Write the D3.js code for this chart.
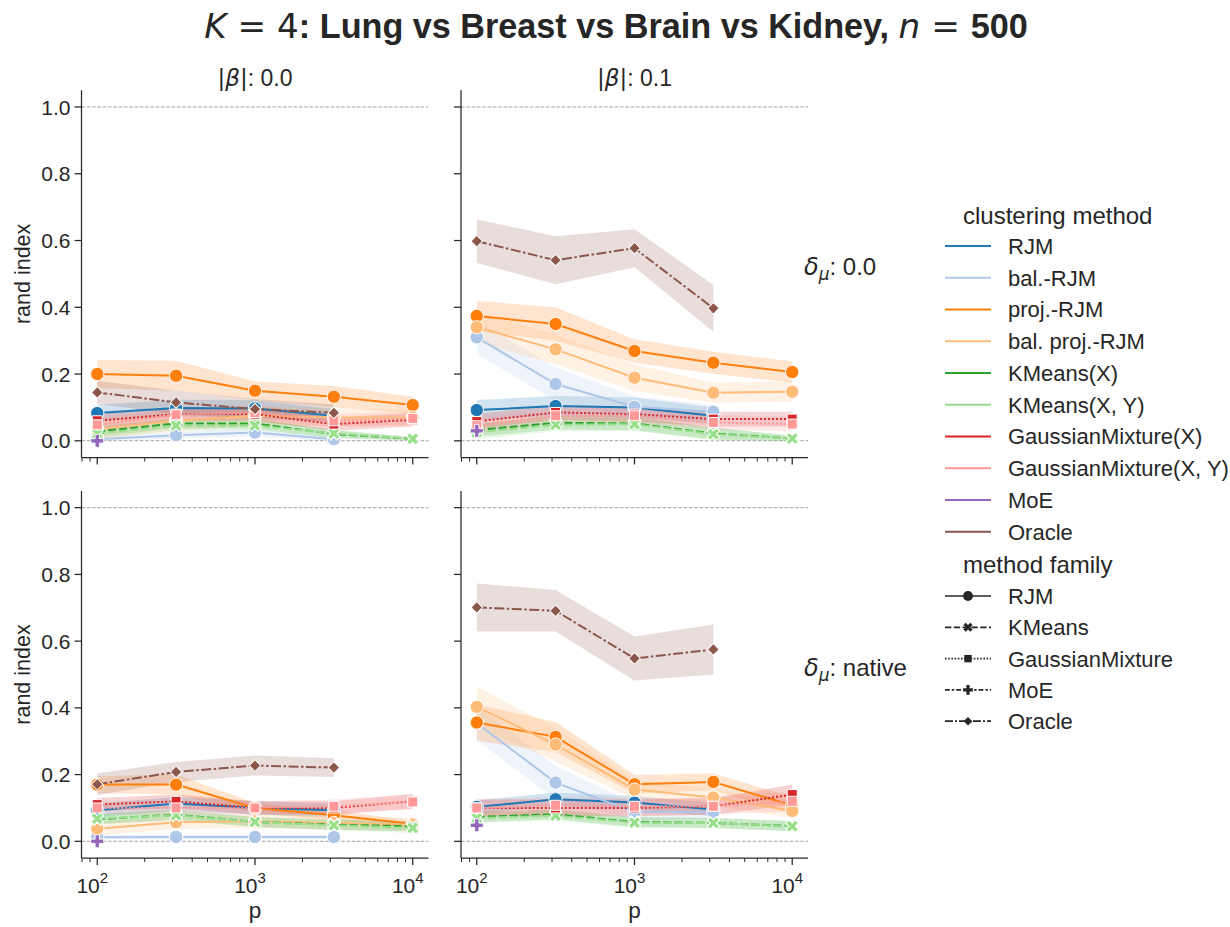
<!DOCTYPE html>
<html>
<head>
<meta charset="utf-8">
<script src="https://cdn.jsdelivr.net/npm/d3@7"></script>
<style>
  body { margin: 0; background: #fff; }
  text { font-family: "Liberation Sans", Arial, sans-serif; fill: #262626; }
  .math { font-family: "DejaVu Sans", sans-serif; }
</style>
</head>
<body>
<svg id="chart" width="1230" height="927"></svg>
<script>
// ---- data -----------------------------------------------------------------
const pValues = [100, 316, 1000, 3162, 10000];
const methods = ["RJM", "bal.-RJM", "proj.-RJM", "bal. proj.-RJM", "KMeans(X)", "KMeans(X, Y)",
                 "GaussianMixture(X)", "GaussianMixture(X, Y)", "MoE", "Oracle"];
const methodColors = ["#1f77b4", "#aec7e8", "#ff7f0e", "#ffbb78", "#2ca02c", "#98df8a",
                      "#d62728", "#ff9896", "#9467bd", "#8c564b"];
const methodFamily = ["RJM", "RJM", "RJM", "RJM", "KMeans", "KMeans",
                      "GaussianMixture", "GaussianMixture", "MoE", "Oracle"];
const families = ["RJM", "KMeans", "GaussianMixture", "MoE", "Oracle"];
const yTicks = [0.0, 0.2, 0.4, 0.6, 0.8, 1.0];
const xMajorTicks = [100, 1000, 10000];
const xMajorExponents = ["2", "3", "4"];
const betaLevels = ["0.0", "0.1"];
const deltaLevels = ["0.0", "native"];

// mean rand index: one row per method (order of `methods`), columns follow pValues
const randIndex_beta00_delta00 = [
  [0.083, 0.098, 0.097, 0.075, null],
  [0.005, 0.017, 0.025, 0.005, null],
  [0.200, 0.195, 0.150, 0.132, 0.107],
  [0.035, 0.060, 0.075, 0.070, 0.070],
  [0.028, 0.052, 0.052, 0.020, 0.006],
  [0.022, 0.046, 0.046, 0.022, 0.006],
  [0.060, 0.080, 0.080, 0.050, 0.063],
  [0.048, 0.078, 0.085, 0.060, 0.067],
  [0.000, null, null, null, null],
  [0.145, 0.115, 0.095, 0.084, null]
];
const randIndex_beta01_delta00 = [
  [0.092, 0.104, 0.100, 0.075, null],
  [0.310, 0.170, 0.102, 0.087, null],
  [0.374, 0.350, 0.269, 0.234, 0.206],
  [0.340, 0.274, 0.189, 0.144, 0.147],
  [0.032, 0.054, 0.052, 0.022, 0.007],
  [0.025, 0.048, 0.050, 0.020, 0.007],
  [0.058, 0.085, 0.080, 0.065, 0.065],
  [0.045, 0.075, 0.075, 0.055, 0.050],
  [0.030, null, null, null, null],
  [0.598, 0.541, 0.577, 0.397, null]
];
const randIndex_beta00_deltaNative = [
  [0.093, 0.113, 0.100, 0.093, null],
  [0.012, 0.013, 0.013, 0.013, null],
  [0.170, 0.170, 0.100, 0.078, 0.052],
  [0.038, 0.057, 0.060, 0.055, 0.050],
  [0.066, 0.080, 0.058, 0.050, 0.045],
  [0.068, 0.078, 0.058, 0.048, 0.040],
  [0.110, 0.120, 0.100, 0.100, 0.120],
  [0.100, 0.100, 0.100, 0.105, 0.118],
  [0.000, null, null, null, null],
  [0.171, 0.208, 0.227, 0.221, null]
];
const randIndex_beta01_deltaNative = [
  [0.103, 0.126, 0.116, 0.095, null],
  [0.354, 0.176, 0.088, 0.088, null],
  [0.356, 0.313, 0.171, 0.178, 0.108],
  [0.403, 0.290, 0.155, 0.131, 0.091],
  [0.073, 0.081, 0.058, 0.055, 0.046],
  [0.070, 0.077, 0.056, 0.055, 0.045],
  [0.100, 0.100, 0.100, 0.105, 0.140],
  [0.100, 0.108, 0.105, 0.105, 0.120],
  [0.048, null, null, null, null],
  [0.701, 0.691, 0.548, 0.575, null]
];

// half-width of the 95% confidence band, same layout as the means
const ciHalf_beta00_delta00 = [
  [0.025, 0.025, 0.025, 0.020, null],
  [0.008, 0.010, 0.012, 0.006, null],
  [0.042, 0.045, 0.028, 0.032, 0.025],
  [0.030, 0.030, 0.030, 0.025, 0.025],
  [0.015, 0.015, 0.015, 0.012, 0.005],
  [0.015, 0.015, 0.015, 0.012, 0.005],
  [0.020, 0.020, 0.020, 0.020, 0.020],
  [0.020, 0.020, 0.020, 0.020, 0.020],
  [0.000, null, null, null, null],
  [0.035, 0.035, 0.030, 0.025, null]
];
const ciHalf_beta01_delta00 = [
  [0.030, 0.030, 0.030, 0.025, null],
  [0.050, 0.050, 0.030, 0.020, null],
  [0.045, 0.050, 0.035, 0.033, 0.032],
  [0.045, 0.045, 0.040, 0.030, 0.030],
  [0.020, 0.020, 0.020, 0.018, 0.008],
  [0.020, 0.020, 0.020, 0.018, 0.008],
  [0.022, 0.022, 0.022, 0.022, 0.022],
  [0.022, 0.022, 0.022, 0.022, 0.022],
  [0.000, null, null, null, null],
  [0.065, 0.072, 0.057, 0.070, null]
];
const ciHalf_beta00_deltaNative = [
  [0.020, 0.020, 0.020, 0.020, null],
  [0.006, 0.006, 0.006, 0.006, null],
  [0.025, 0.030, 0.015, 0.015, 0.010],
  [0.020, 0.020, 0.020, 0.020, 0.020],
  [0.015, 0.015, 0.015, 0.015, 0.015],
  [0.015, 0.015, 0.015, 0.015, 0.015],
  [0.020, 0.020, 0.020, 0.020, 0.022],
  [0.020, 0.020, 0.020, 0.020, 0.022],
  [0.000, null, null, null, null],
  [0.032, 0.030, 0.030, 0.028, null]
];
const ciHalf_beta01_deltaNative = [
  [0.020, 0.020, 0.020, 0.020, null],
  [0.050, 0.050, 0.025, 0.020, null],
  [0.055, 0.045, 0.028, 0.025, 0.025],
  [0.060, 0.050, 0.030, 0.025, 0.020],
  [0.015, 0.015, 0.015, 0.015, 0.015],
  [0.015, 0.015, 0.015, 0.015, 0.015],
  [0.025, 0.025, 0.025, 0.025, 0.030],
  [0.025, 0.025, 0.025, 0.025, 0.030],
  [0.000, null, null, null, null],
  [0.072, 0.062, 0.066, 0.075, null]
];

// ---- layout ---------------------------------------------------------------
const svg = d3.select("#chart");
const ink = "#262626";
const tickFont = 21;
const labelFont = 21.5;
const titleFont = 24;
const colRange = [[81.5, 428.5], [461, 808]];
const rowRange = [[90.3, 457.5], [491, 858]];
const xDomain = [Math.pow(10, 1.9), Math.pow(10, 4.1)];
const yDomain = [-0.05, 1.05];

const facets = [
  { row: 0, col: 0, mean: randIndex_beta00_delta00,     ci: ciHalf_beta00_delta00 },
  { row: 0, col: 1, mean: randIndex_beta01_delta00,     ci: ciHalf_beta01_delta00 },
  { row: 1, col: 0, mean: randIndex_beta00_deltaNative, ci: ciHalf_beta00_deltaNative },
  { row: 1, col: 1, mean: randIndex_beta01_deltaNative, ci: ciHalf_beta01_deltaNative }
];

const familyDash = {
  RJM: null,
  KMeans: "8,3",
  GaussianMixture: "2,2",
  MoE: "6,2.5,3,2.5",
  Oracle: "10,2.5,2.5,2.5"
};

// marker shapes by method family (size = area in px^2, rotation in degrees)
const familyMarker = {
  RJM: { type: d3.symbolCircle, size: 140, rot: 0 },
  KMeans: { type: d3.symbolCross, size: 95, rot: 45 },
  GaussianMixture: { type: d3.symbolSquare, size: 100, rot: 0 },
  MoE: { type: d3.symbolCross, size: 95, rot: 0 },
  Oracle: { type: d3.symbolSquare, size: 68, rot: 45 }
};

function addMarker(g, fam, cx, cy, fill, scale) {
  const m = familyMarker[fam];
  g.append("path")
    .attr("d", d3.symbol(m.type, m.size * scale)())
    .attr("transform", `translate(${cx},${cy}) rotate(${m.rot})`)
    .attr("fill", fill)
    .attr("stroke", "#fff")
    .attr("stroke-width", scale < 1 ? 0 : 1);
}

// ---- facets ---------------------------------------------------------------
facets.forEach(f => {
  const [x0, x1] = colRange[f.col];
  const [y0, y1] = rowRange[f.row];
  const x = d3.scaleLog().domain(xDomain).range([x0, x1]);
  const y = d3.scaleLinear().domain(yDomain).range([y1, y0]);
  const g = svg.append("g");

  // reference lines at 0 and 1
  [0, 1].forEach(v => {
    g.append("line")
      .attr("x1", x0).attr("x2", x1)
      .attr("y1", y(v)).attr("y2", y(v))
      .attr("stroke", "#a3a3a3").attr("stroke-width", 1.1)
      .attr("stroke-dasharray", "3.7,1.6");
  });

  const seriesPoints = methods.map((m, i) =>
    pValues.map((p, j) => ({ p, v: f.mean[i][j], h: f.ci[i][j] })).filter(d => d.v !== null));

  // confidence bands underneath every line
  const band = d3.area().x(d => x(d.p)).y0(d => y(d.v - d.h)).y1(d => y(d.v + d.h));
  seriesPoints.forEach((pts, i) => {
    if (pts.length < 2) return;
    g.append("path").attr("d", band(pts))
      .attr("fill", methodColors[i]).attr("fill-opacity", 0.2).attr("stroke", "none");
  });

  // lines and markers, one method after the other
  const line = d3.line().x(d => x(d.p)).y(d => y(d.v));
  seriesPoints.forEach((pts, i) => {
    const fam = methodFamily[i];
    if (pts.length > 1) {
      g.append("path").attr("d", line(pts))
        .attr("fill", "none").attr("stroke", methodColors[i]).attr("stroke-width", 2)
        .attr("stroke-dasharray", familyDash[fam]);
    }
    pts.forEach(d => addMarker(g, fam, x(d.p), y(d.v), methodColors[i], 1));
  });

  // spines
  g.append("line").attr("x1", x0).attr("x2", x0).attr("y1", y0).attr("y2", y1)
    .attr("stroke", ink).attr("stroke-width", 1.25);
  g.append("line").attr("x1", x0).attr("x2", x1).attr("y1", y1).attr("y2", y1)
    .attr("stroke", ink).attr("stroke-width", 1.25);

  // y ticks
  yTicks.forEach(t => {
    g.append("line").attr("x1", x0 - 7).attr("x2", x0).attr("y1", y(t)).attr("y2", y(t))
      .attr("stroke", ink).attr("stroke-width", 1.25);
    if (f.col === 0) {
      g.append("text").attr("x", x0 - 11).attr("y", y(t)).attr("dy", "0.36em")
        .attr("text-anchor", "end").attr("font-size", tickFont).text(d3.format(".1f")(t));
    }
  });

  // x ticks: major decades and minor 2..9 multiples
  const minor = [];
  [10, 100, 1000, 10000].forEach(dec => {
    for (let k = 2; k <= 9; k++) {
      const v = dec * k;
      if (v > xDomain[0] && v < xDomain[1]) minor.push(v);
    }
  });
  minor.forEach(v => {
    g.append("line").attr("x1", x(v)).attr("x2", x(v)).attr("y1", y1).attr("y2", y1 + 4)
      .attr("stroke", ink).attr("stroke-width", 1);
  });
  xMajorTicks.forEach((v, k) => {
    g.append("line").attr("x1", x(v)).attr("x2", x(v)).attr("y1", y1).attr("y2", y1 + 7)
      .attr("stroke", ink).attr("stroke-width", 1.25);
    if (f.row === 1) {
      const t = g.append("text").attr("x", x(v) - 5).attr("y", y1 + 35)
        .attr("text-anchor", "middle").attr("font-size", tickFont);
      t.append("tspan").text("10");
      t.append("tspan").attr("font-size", 15).attr("dy", -10).text(xMajorExponents[k]);
    }
  });

  // axis labels
  if (f.row === 1) {
    g.append("text").attr("x", (x0 + x1) / 2).attr("y", 918)
      .attr("text-anchor", "middle").attr("font-size", labelFont + 1).text("p");
  }
  if (f.col === 0) {
    g.append("text").attr("transform", `translate(30,${(y0 + y1) / 2}) rotate(-90)`)
      .attr("text-anchor", "middle").attr("font-size", labelFont).text("rand index");
  }

  // column titles
  if (f.row === 0) {
    const t = g.append("text").attr("x", (x0 + x1) / 2).attr("y", 86)
      .attr("text-anchor", "middle").attr("font-size", titleFont - 1);
    t.append("tspan").attr("class", "math").text("|");
    t.append("tspan").attr("class", "math").attr("font-style", "italic").text("β");
    t.append("tspan").attr("class", "math").text("|");
    t.append("tspan").text(": " + betaLevels[f.col]);
  }
  // row titles
  if (f.col === 1) {
    const t = g.append("text").attr("x", 804).attr("y", (y0 + y1) / 2 + 1)
      .attr("font-size", titleFont);
    t.append("tspan").attr("class", "math").attr("font-style", "italic").text("δ");
    t.append("tspan").attr("class", "math").attr("font-style", "italic")
      .attr("font-size", 17).attr("dy", 5).text("μ");
    t.append("tspan").attr("dy", -5).text(": " + deltaLevels[f.row]);
  }
});

// ---- title ----------------------------------------------------------------
const title = svg.append("text").attr("x", 616).attr("y", 38)
  .attr("text-anchor", "middle").attr("font-size", 34.2);
title.append("tspan").attr("class", "math").attr("font-style", "italic").text("K");
title.append("tspan").attr("class", "math").text(" = 4");
title.append("tspan").attr("font-weight", "bold").text(": Lung vs Breast vs Brain vs Kidney, ");
title.append("tspan").attr("class", "math").attr("font-style", "italic").text("n");
title.append("tspan").attr("class", "math").text(" = ");
title.append("tspan").attr("font-weight", "bold").text("500");

// ---- legend ---------------------------------------------------------------
const leg = svg.append("g");
const lx0 = 945, lx1 = 991, tx = 1008;
const legendFont = 22;
leg.append("text").attr("x", 963).attr("y", 215).attr("dy", "0.36em")
  .attr("font-size", titleFont).text("clustering method");
methods.forEach((m, i) => {
  const yy = 246 + i * 31.75;
  leg.append("line").attr("x1", lx0).attr("x2", lx1).attr("y1", yy).attr("y2", yy)
    .attr("stroke", methodColors[i]).attr("stroke-width", 2.2);
  leg.append("text").attr("x", tx).attr("y", yy).attr("dy", "0.36em")
    .attr("font-size", legendFont).text(m);
});
leg.append("text").attr("x", 963).attr("y", 564).attr("dy", "0.36em")
  .attr("font-size", titleFont).text("method family");
families.forEach((fam, i) => {
  const yy = 596 + i * 31.3;
  leg.append("line").attr("x1", lx0).attr("x2", lx1).attr("y1", yy).attr("y2", yy)
    .attr("stroke", ink).attr("stroke-width", 1.7)
    .attr("stroke-dasharray", familyDash[fam] ? familyDash[fam].split(",").map(v => v * 0.8).join(",") : null);
  addMarker(leg, fam, (lx0 + lx1) / 2, yy, ink, 0.55);
  leg.append("text").attr("x", tx).attr("y", yy).attr("dy", "0.36em")
    .attr("font-size", legendFont).text(fam);
});
</script>
</body>
</html>
